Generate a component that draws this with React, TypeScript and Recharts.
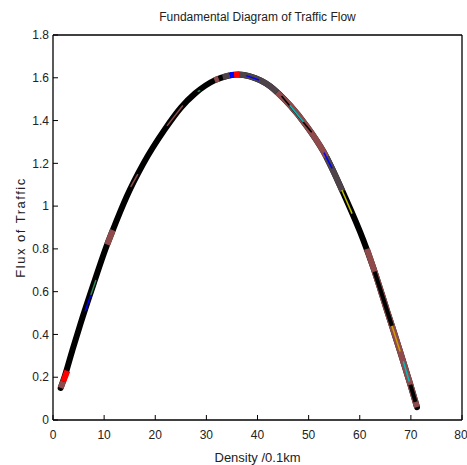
import { LineChart, Line, XAxis, YAxis, Label } from "recharts";

// main curve (density /0.1km, flux)
const density = [1.5, 2.3, 3.8, 5.3, 8.1, 10.2, 11.7, 14.4, 17.7, 21.9, 25.0, 27.8, 31.7, 34.0, 36.2, 38.5, 42.5, 46.4, 49.6, 52.9, 57.1, 60.7, 62.7, 65.3, 67.9, 69.9, 71.2];
const flux = [0.15, 0.205, 0.327, 0.444, 0.648, 0.795, 0.888, 1.044, 1.2, 1.36, 1.46, 1.527, 1.589, 1.608, 1.615, 1.607, 1.56, 1.47, 1.375, 1.255, 1.044, 0.841, 0.709, 0.514, 0.32, 0.165, 0.06];

const xTicks = [0, 10, 20, 30, 40, 50, 60, 70, 80];
const yTicks = [0, 0.2, 0.4, 0.6, 0.8, 1, 1.2, 1.4, 1.6, 1.8];

// coloured runs drawn over the black curve: [density, flux] pairs
const brownRuns = [
  [[1.5, 0.15], [2.0, 0.18]],
  [[10.6, 0.82], [11.7, 0.888]],
  [[31.6, 1.588], [32.4, 1.596]],
  [[43.8, 1.532], [46.4, 1.47], [49.6, 1.375], [52.9, 1.255], [53.5, 1.228]],
  [[61.4, 0.8], [62.7, 0.709], [65.3, 0.514], [67.9, 0.32], [69.9, 0.165], [71.2, 0.06]],
];
const grayRuns = [
  [[33.2, 1.603], [34.6, 1.612]],
  [[36.2, 1.615], [38.5, 1.607], [42.5, 1.56], [43.8, 1.532]],
  [[53.5, 1.228], [55.0, 1.155], [56.6, 1.07]],
];
const blackRuns = [
  [[62.9, 0.694], [64.5, 0.575], [66.3, 0.44]],
  [[69.9, 0.165], [70.9, 0.085]],
];
const redRuns = [
  [[2.0, 0.18], [2.8, 0.23]],
  [[35.4, 1.614], [36.4, 1.615]],
];
const blueRuns = [[[34.6, 1.612], [35.4, 1.614]]];

// thin traces inside the thick band
const thinRuns = [
  { color: "#0000ff", pts: [[6.3, 0.51], [7.4, 0.585]] },
  { color: "#2e8b57", pts: [[7.4, 0.585], [8.4, 0.655]] },
  { color: "#8f4b4b", pts: [[15.2, 1.09], [16.6, 1.15]] },
  { color: "#8f4b4b", pts: [[22.3, 1.375], [25.4, 1.47]] },
  { color: "#2e8b57", pts: [[28.3, 1.535], [28.8, 1.541]] },
  { color: "#0000ff", pts: [[37.8, 1.61], [40.3, 1.59]] },
  { color: "#000000", pts: [[44.7, 1.515], [50.6, 1.345]] },
  { color: "#00bfbf", pts: [[46.3, 1.472], [49.0, 1.393]] },
  { color: "#0000ff", pts: [[53.0, 1.25], [54.6, 1.176]] },
  { color: "#bfbf00", pts: [[56.5, 1.075], [58.5, 0.965]] },
  { color: "#d0a000", pts: [[66.3, 0.44], [67.9, 0.32]] },
  { color: "#00bfbf", pts: [[68.5, 0.275], [69.7, 0.18]] },
];

const font = "'Liberation Sans', Arial, sans-serif";
const tickStyle = { fill: "#222", fontSize: 12, fontFamily: font };
const frame = { stroke: "#000", strokeWidth: 1.3 };

const curve = density.map((k, i) => ({ k, q: flux[i] }));
const toRows = (pts: number[][]) => pts.map(([k, q]) => ({ k, q }));

export default function App() {
  const overlays: { color: string; width: number; pts: number[][] }[] = [
    ...brownRuns.map((pts) => ({ color: "#8f4b4b", width: 6, pts })),
    ...grayRuns.map((pts) => ({ color: "#4d4349", width: 6, pts })),
    ...blackRuns.map((pts) => ({ color: "#000000", width: 4, pts })),
    ...redRuns.map((pts) => ({ color: "#ff0000", width: 6, pts })),
    ...blueRuns.map((pts) => ({ color: "#0000ff", width: 6, pts })),
    ...thinRuns.map((r) => ({ color: r.color, width: 1.5, pts: r.pts })),
  ];

  return (
    <div style={{ position: "absolute", left: 0, top: 0, width: 467, height: 465, background: "#fff" }}>
      <div
        style={{
          position: "absolute",
          left: 53,
          top: 10,
          width: 409,
          textAlign: "center",
          fontFamily: font,
          fontSize: 12,
          lineHeight: "14px",
          color: "#222",
        }}
      >
        Fundamental Diagram of Traffic Flow
      </div>
      <LineChart width={467} height={465} margin={{ top: 34, right: 4, bottom: 0, left: 0 }}>
        <XAxis
          dataKey="k"
          type="number"
          domain={[0, 80]}
          ticks={xTicks}
          height={45}
          tickSize={-5}
          tickMargin={15}
          tick={tickStyle}
          axisLine={frame}
          tickLine={{ stroke: "#000" }}
        >
          <Label
            value="Density /0.1km"
            position="insideBottom"
            offset={3}
            style={{ fill: "#222", fontSize: 13, fontFamily: font }}
          />
        </XAxis>
        <XAxis
          xAxisId="top"
          dataKey="k"
          orientation="top"
          type="number"
          domain={[0, 80]}
          ticks={xTicks}
          height={1}
          tickSize={-5}
          tick={false}
          axisLine={frame}
          tickLine={{ stroke: "#000" }}
        />
        <YAxis
          type="number"
          domain={[0, 1.8]}
          ticks={yTicks}
          width={53}
          tickSize={-5}
          tickMargin={9}
          tick={tickStyle}
          axisLine={frame}
          tickLine={{ stroke: "#000" }}
        >
          <Label
            value="Flux of Traffic"
            angle={-90}
            position="insideLeft"
            offset={20}
            style={{ fill: "#222", fontSize: 13, fontFamily: font, letterSpacing: 1.5, textAnchor: "middle" }}
          />
        </YAxis>
        <YAxis
          yAxisId="right"
          orientation="right"
          type="number"
          domain={[0, 1.8]}
          ticks={yTicks}
          width={1}
          tickSize={-5}
          tick={false}
          axisLine={frame}
          tickLine={{ stroke: "#000" }}
        />
        {/* invisible series so the top and right frame axes are drawn */}
        <Line
          data={curve}
          xAxisId="top"
          yAxisId="right"
          dataKey="q"
          stroke="none"
          dot={false}
          legendType="none"
          isAnimationActive={false}
        />
        <Line
          data={curve}
          dataKey="q"
          type="monotone"
          stroke="#000"
          strokeWidth={6}
          strokeLinecap="round"
          dot={false}
          isAnimationActive={false}
        />
        {overlays.map((o, i) => (
          <Line
            key={i}
            data={toRows(o.pts)}
            dataKey="q"
            type={o.pts.length > 2 ? "monotone" : "linear"}
            stroke={o.color}
            strokeWidth={o.width}
            dot={false}
            isAnimationActive={false}
          />
        ))}
      </LineChart>
    </div>
  );
}
